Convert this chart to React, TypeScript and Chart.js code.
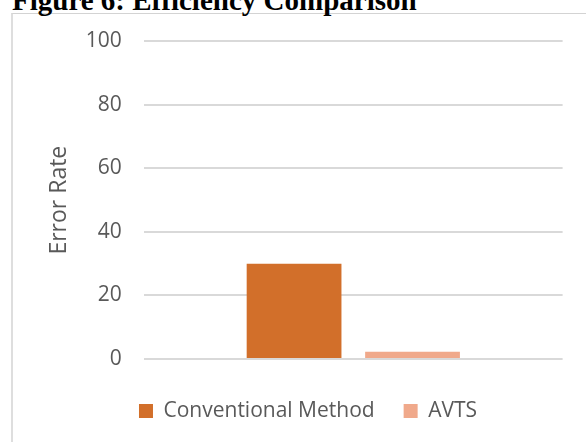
import React, { useEffect, useRef } from "react";
import { Chart, registerables } from "chart.js";

Chart.register(...registerables);

const figureTitle = "Figure 6: Efficiency Comparison";
const categories = [""];
const seriesNames = ["Conventional Method", "AVTS"];
const conventionalValues = [30];
const avtsValues = [2.3];
const yTickValues = [0, 20, 40, 60, 80, 100];
const yAxisTitle = "Error Rate";
const seriesColors = ["#D26F2A", "#F0A98B"];

const W = 586;
const H = 442;
const FONT = "'Open Sans', 'DejaVu Sans', sans-serif";
const TEXT_COLOR = "#595959";
const GRID_COLOR = "#d9d9d9";

export default function App() {
  const canvasRef = useRef<HTMLCanvasElement | null>(null);

  useEffect(() => {
    if (!canvasRef.current) return;
    const chart = new Chart(canvasRef.current, {
      type: "bar",
      data: {
        labels: categories,
        datasets: [
          {
            label: seriesNames[0],
            data: conventionalValues,
            backgroundColor: seriesColors[0],
            borderWidth: 0,
            yAxisID: "y",
          },
          {
            label: seriesNames[1],
            data: avtsValues,
            backgroundColor: seriesColors[1],
            borderWidth: 0,
            yAxisID: "y",
          },
        ],
      },
      options: {
        responsive: false,
        animation: false,
        devicePixelRatio: 1,
        datasets: {
          bar: { categoryPercentage: 0.566, barPercentage: 0.8 },
        },
        layout: { padding: { top: 41.3, left: 30, right: 0, bottom: 10.5 } },
        plugins: {
          title: { display: false },
          tooltip: { enabled: false },
          legend: {
            display: true,
            position: "bottom",
            labels: {
              boxWidth: 14,
              boxHeight: 14,
              padding: 29,
              color: TEXT_COLOR,
              font: { family: FONT, size: 21 },
            },
          },
        },
        scales: {
          x: {
            display: true,
            grid: { display: false },
            border: { display: false },
            ticks: { display: false },
            afterFit: (scale: any) => {
              scale.height = 12.5;
            },
          },
          y: {
            position: "left",
            min: Math.min(...yTickValues),
            max: Math.max(...yTickValues),
            afterBuildTicks: (scale: any) => {
              scale.ticks = yTickValues.map((v) => ({ value: v }));
            },
            ticks: {
              color: TEXT_COLOR,
              font: { family: FONT, size: 21 },
              padding: 22.3,
            },
            grid: {
              color: GRID_COLOR,
              lineWidth: 2,
              drawTicks: false,
            },
            border: { display: false },
            title: {
              display: true,
              text: yAxisTitle,
              color: TEXT_COLOR,
              font: { family: FONT, size: 23 },
              padding: { top: 15.7, bottom: 0 },
            },
            afterFit: (scale: any) => {
              scale.width = 114;
            },
          },
          yRight: {
            position: "right",
            display: true,
            grid: { display: false },
            border: { display: false },
            ticks: { display: false },
            afterFit: (scale: any) => {
              scale.width = 23.4;
            },
          },
        },
      },
    });
    return () => chart.destroy();
  }, []);

  return (
    <div
      style={{
        position: "absolute",
        left: 0,
        top: 0,
        width: W,
        height: H,
        overflow: "hidden",
        background: "#ffffff",
      }}
    >
      <div
        style={{
          position: "absolute",
          left: 11,
          top: 13,
          width: 700,
          height: 600,
          borderLeft: "2px solid #dedede",
          borderTop: "1px solid #d3d3d3",
        }}
      />
      <div
        style={{
          position: "absolute",
          left: 12,
          top: -14.5,
          fontFamily: "'Liberation Serif', 'Times New Roman', serif",
          fontWeight: "bold",
          fontSize: 29,
          lineHeight: "29px",
          whiteSpace: "nowrap",
          color: "#000000",
        }}
      >
        {figureTitle}
      </div>
      <canvas
        ref={canvasRef}
        width={W}
        height={H}
        style={{ position: "absolute", left: 0, top: 0, width: W, height: H }}
      />
    </div>
  );
}
